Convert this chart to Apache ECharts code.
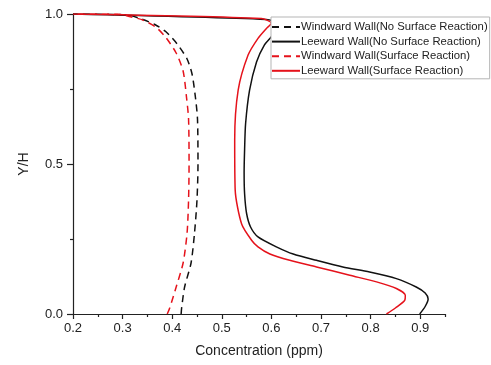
<!DOCTYPE html>
<html>
<head>
<meta charset="utf-8">
<script src="https://cdn.jsdelivr.net/npm/echarts@6/dist/echarts.min.js"></script>
<style>html,body{margin:0;padding:0;background:#fff}#c{width:491px;height:365px}</style>
</head>
<body>
<div id="c"></div>
<script>
var seriesNames = [
  'Windward Wall(No Surface Reaction)',
  'Leeward Wall(No Surface Reaction)',
  'Windward Wall(Surface Reaction)',
  'Leeward Wall(Surface Reaction)'
];
var xTicks = [0.2, 0.3, 0.4, 0.5, 0.6, 0.7, 0.8, 0.9];
var xMinorTicks = [0.25, 0.35, 0.45, 0.55, 0.65, 0.75, 0.85, 0.95];
var yTicks = [0, 0.5, 1.0];
var yMinorTicks = [0.25, 0.75];

var windNoY = [0, 0.02, 0.09, 0.17, 0.27, 0.38, 0.5, 0.65, 0.72, 0.8, 0.85, 0.9, 0.94, 0.965, 0.985, 0.997, 1.0];
var windNoX = [0.418, 0.419, 0.425, 0.438, 0.445, 0.45, 0.452, 0.451, 0.447, 0.44, 0.43, 0.41, 0.388, 0.365, 0.335, 0.31, 0.2];

var leeNoY = [0, 0.025, 0.05, 0.07, 0.09, 0.118, 0.14, 0.157, 0.179, 0.2, 0.224, 0.257, 0.29, 0.335, 0.4, 0.47, 0.55, 0.635, 0.746, 0.84, 0.897, 0.924, 0.95, 0.97, 0.982, 1.0];
var leeNoX = [0.899, 0.91, 0.916, 0.91, 0.892, 0.852, 0.798, 0.744, 0.691, 0.644, 0.61, 0.573, 0.558, 0.55, 0.546, 0.545, 0.546, 0.548, 0.556, 0.57, 0.586, 0.6, 0.61, 0.612, 0.59, 0.2];

var windSrY = [0, 0.02, 0.09, 0.17, 0.27, 0.38, 0.5, 0.65, 0.72, 0.81, 0.87, 0.92, 0.955, 0.98, 0.99, 1.0, 1.0];
var windSrX = [0.39, 0.395, 0.408, 0.422, 0.43, 0.433, 0.434, 0.433, 0.429, 0.422, 0.408, 0.388, 0.368, 0.341, 0.318, 0.29, 0.2];

var leeSrY = [0, 0.02, 0.046, 0.062, 0.085, 0.107, 0.129, 0.157, 0.179, 0.2, 0.224, 0.246, 0.3, 0.413, 0.58, 0.746, 0.863, 0.919, 0.952, 0.969, 0.985, 1.0];
var leeSrX = [0.832, 0.85, 0.869, 0.87, 0.852, 0.812, 0.758, 0.691, 0.637, 0.597, 0.573, 0.56, 0.54, 0.527, 0.526, 0.533, 0.553, 0.573, 0.59, 0.6, 0.58, 0.2];

function pairs(xs, ys) { return xs.map(function (x, i) { return [x, ys[i]]; }); }

var BLACK = '#111111', RED = '#e5121b';
var FONT = 'Liberation Sans, Arial, sans-serif';

function mkSeries(name, xs, ys, color, dashed) {
  return {
    name: name, type: 'line', data: pairs(xs, ys),
    symbol: 'none', smooth: 0.25, animation: false,
    lineStyle: { color: color, width: 1.5, type: dashed ? [7, 5] : 'solid' },
    itemStyle: { color: color }
  };
}

var chart = echarts.init(document.getElementById('c'), null, { renderer: 'canvas' });
var axisLine = { show: true, onZero: false, lineStyle: { color: '#222', width: 1.2 } };
chart.setOption({
  animation: false,
  backgroundColor: '#fff',
  grid: { left: 73, right: 46, top: 14, bottom: 51, containLabel: false },
  legend: {
    orient: 'vertical', left: 271, top: 17,
    data: seriesNames,
    itemWidth: 28, itemHeight: 10, itemGap: 2.6,
    itemStyle: { opacity: 0, borderWidth: 0 },
    backgroundColor: '#fff', borderColor: '#b5b5b5', borderWidth: 1, borderRadius: 0,
    padding: [4, 2, 2, 0],
    textStyle: { fontFamily: FONT, fontSize: 11.3, lineHeight: 12, color: '#222', padding: [0, 0, 0, -4] }
  },
  xAxis: [{
    type: 'value', min: 0.2, max: 0.95, position: 'bottom',
    name: 'Concentration (ppm)', nameLocation: 'middle', nameGap: 30,
    nameTextStyle: { fontFamily: FONT, fontSize: 14, color: '#222' },
    axisLine: axisLine,
    axisTick: { show: true, inside: false, length: 5, customValues: xTicks, lineStyle: { color: '#222', width: 1.2 } },
    axisLabel: { show: true, customValues: xTicks, margin: 8, fontFamily: FONT, fontSize: 13, color: '#222',
      formatter: function (v) { return v.toFixed(1); } },
    splitLine: { show: false }
  }, {
    type: 'value', min: 0.2, max: 0.95, position: 'bottom',
    axisLine: { show: false },
    axisTick: { show: true, length: 3, customValues: xMinorTicks, lineStyle: { color: '#222', width: 1.2 } },
    axisLabel: { show: false }, splitLine: { show: false }
  }],
  yAxis: [{
    type: 'value', min: 0, max: 1, position: 'left',
    name: 'Y/H', nameLocation: 'middle', nameGap: 42, nameRotate: 90,
    nameTextStyle: { fontFamily: FONT, fontSize: 14, color: '#222' },
    axisLine: axisLine,
    axisTick: { show: true, length: 6, customValues: yTicks, lineStyle: { color: '#222', width: 1.2 } },
    axisLabel: { show: true, customValues: yTicks, margin: 10, fontFamily: FONT, fontSize: 13, color: '#222',
      formatter: function (v) { return v.toFixed(1); } },
    splitLine: { show: false }
  }, {
    type: 'value', min: 0, max: 1, position: 'left',
    axisLine: { show: false },
    axisTick: { show: true, length: 3, customValues: yMinorTicks, lineStyle: { color: '#222', width: 1.2 } },
    axisLabel: { show: false }, splitLine: { show: false }
  }],
  series: [
    mkSeries(seriesNames[0], windNoX, windNoY, BLACK, true),
    mkSeries(seriesNames[1], leeNoX, leeNoY, BLACK, false),
    mkSeries(seriesNames[2], windSrX, windSrY, RED, true),
    mkSeries(seriesNames[3], leeSrX, leeSrY, RED, false)
  ]
});
</script>
</body>
</html>
